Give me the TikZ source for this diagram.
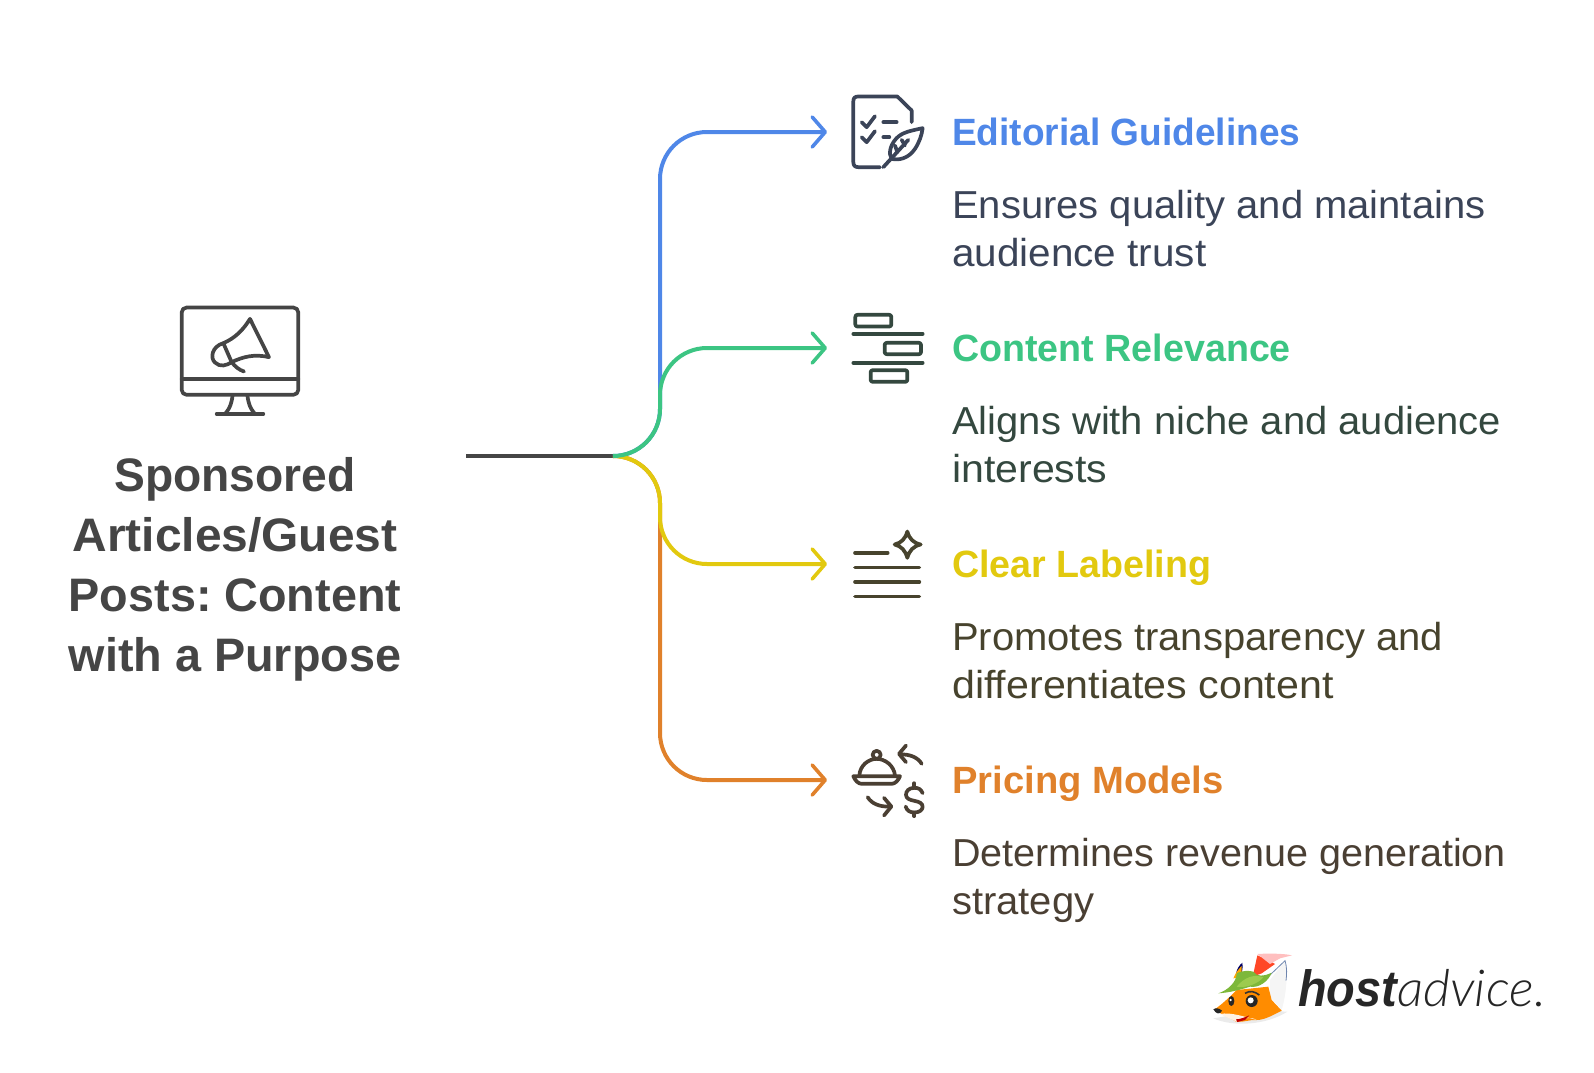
\documentclass[tikz,border=0pt]{standalone}
\usepackage{fontspec}
\usetikzlibrary{arrows.meta}
\setmainfont{Liberation Sans}
\newfontfamily\titlef[FakeStretch=0.995]{Liberation Sans}
\newfontfamily\headf[FakeStretch=0.99]{Liberation Sans}
\newfontfamily\descf[FakeStretch=1.025]{Liberation Sans}
\newfontfamily\logof[FakeStretch=0.92]{Liberation Sans}
\newfontfamily\lightf[FakeStretch=1.03]{Lato Light}
\definecolor{cblue}{HTML}{4F87E8}
\definecolor{cgreen}{HTML}{3CC583}
\definecolor{cyellow}{HTML}{E2C90F}
\definecolor{corange}{HTML}{E0812B}
\definecolor{tblue}{HTML}{3B4458}
\definecolor{tgreen}{HTML}{34483F}
\definecolor{tyellow}{HTML}{47432D}
\definecolor{torange}{HTML}{4A3F33}
\definecolor{tgray}{HTML}{454545}
\definecolor{leaf}{HTML}{7DB83A}
\definecolor{leafb}{HTML}{9CCB4E}
\tikzset{
  conn/.style={line width=4pt,-{Straight Barb[length=13pt,width=30pt,line width=3.6pt,round]}},
  stem/.style={line width=4pt},
  titlet/.style={font=\fontsize{47}{60}\selectfont\bfseries\titlef\frenchspacing,text=tgray,anchor=base,inner sep=0pt},
  headt/.style={font=\fontsize{38}{47}\selectfont\bfseries\headf,anchor=base west,inner sep=0pt},
  desct/.style={font=\fontsize{39}{47}\selectfont\descf,anchor=base west,inner sep=0pt},
  ico/.style={line width=3.7pt,line cap=round,line join=round},
  zoomed/.style={x=0.3333pt,y=-0.3333pt}
}
\begin{document}
\begin{tikzpicture}[x=1pt,y=-1pt]
\useasboundingbox (0,0) rectangle (1594,1072);
% text
\node[titlet,xscale=0.988] (t1) at (235,491) {Sponsored};
\node[titlet,xscale=1.025] (t2) at (235,551) {Articles/Guest};
\node[titlet] (t3) at (235,611) {Posts: Content};
\node[titlet] (t4) at (235,671) {with a Purpose};
\node[headt,text=cblue,xscale=0.985] (h1) at (952,145) {Editorial Guidelines};
\node[desct,text=tblue] (d1a) at (952,218) {Ensures quality and maintains};
\node[desct,text=tblue,xscale=1.012] (d1b) at (952,266) {audience trust};
\node[headt,text=cgreen] (h2) at (952,361) {Content Relevance};
\node[desct,text=tgreen] (d2a) at (952,434) {Aligns with niche and audience};
\node[desct,text=tgreen,xscale=1.027] (d2b) at (952,482) {interests};
\node[headt,text=cyellow] (h3) at (952,577) {Clear Labeling};
\node[desct,text=tyellow] (d3a) at (952,650) {Promotes transparency and};
\node[desct,text=tyellow,xscale=1.03] (d3b) at (952,698) {differentiates content};
\node[headt,text=corange,xscale=1.015] (h4) at (952,793) {Pricing Models};
\node[desct,text=torange,xscale=0.989] (d4a) at (952,866) {Determines revenue generation};
\node[desct,text=torange] (d4b) at (952,914) {strategy};
% connectors
\coordinate (src) at (466,456);
\coordinate (j) at (613,456);
\coordinate (up) at (660,409);
\coordinate (dn) at (660,503);
\coordinate (e1) at (827,132);
\coordinate (e2) at (827,348);
\coordinate (e3) at (827,564);
\coordinate (e4) at (827,780);
\draw[stem,tgray] (src) -- (j);
\draw[conn,corange] (j) .. controls +(26,0) and +(0,-26) .. (dn) -- (660,733) .. controls +(0,26) and +(-26,0) .. (707,780) -- (e4);
\draw[conn,cblue] (j) .. controls +(26,0) and +(0,26) .. (up) -- (660,179) .. controls +(0,-26) and +(-26,0) .. (707,132) -- (e1);
\draw[conn,cyellow] (j) .. controls +(26,0) and +(0,-26) .. (dn) -- (660,517) .. controls +(0,26) and +(-26,0) .. (707,564) -- (e3);
\draw[conn,cgreen] (j) .. controls +(26,0) and +(0,26) .. (up) -- (660,395) .. controls +(0,-26) and +(-26,0) .. (707,348) -- (e2);
% monitor icon
\begin{scope}[shift={(160,291.5)},zoomed,ico,tgray]
\draw[rounded corners=5pt] (65,48) rectangle (415,310);
\draw (65,262) -- (415,262);
\draw (218,310) .. controls (215,335) and (210,350) .. (197,365);
\draw (262,310) .. controls (265,335) and (270,350) .. (283,365);
\draw (170,367) -- (310,367);
\draw (270,82) -- (327,197) .. controls (285,187) and (250,195) .. (215,212) -- (190,155) .. controls (225,140) and (250,115) .. (270,82) -- cycle;
\draw (190,155) .. controls (155,165) and (150,200) .. (165,213) .. controls (180,228) and (200,222) .. (215,212) .. controls (225,225) and (237,235) .. (252,240);
\end{scope}
% doc + feather
\begin{scope}[shift={(820,80.5)},zoomed,ico,tblue]
\draw (180,260) -- (115,260) .. controls (105,260) and (100,255) .. (100,245) -- (100,62) .. controls (100,52) and (105,48) .. (115,48) -- (232,48) -- (275,90) -- (275,125);
\draw (125,125) -- (140,140) -- (165,107);
\draw (125,170) -- (140,185) -- (165,152);
\draw (190,125) -- (230,125);
\draw (190,170) -- (208,170);
\draw (308,143) .. controls (275,150) and (245,155) .. (228,175) .. controls (210,195) and (205,220) .. (215,235) .. controls (235,240) and (265,235) .. (285,205) .. controls (298,185) and (305,165) .. (308,143) -- cycle;
\draw (190,260) -- (265,178);
\draw (225,195) -- (232,215) (245,178) -- (255,195);
\end{scope}
% bars
\begin{scope}[shift={(820,300.5)},zoomed,ico,tgreen]
\draw[rounded corners=2pt] (106,43) rectangle (214,78);
\draw (100,100) -- (308,100);
\draw[rounded corners=2pt] (194,127) rectangle (303,161);
\draw (100,187) -- (308,187);
\draw[rounded corners=2pt] (152,209) rectangle (262,244);
\end{scope}
% lines + sparkle
\begin{scope}[shift={(820,520.5)},zoomed,ico,tyellow]
\draw (105,97) -- (203,97);
\draw (105,141) -- (298,141);
\draw (105,184) -- (298,184);
\draw (105,228) -- (298,228);
\draw (262,33) .. controls (268,55) and (280,67) .. (302,72) .. controls (280,77) and (268,90) .. (262,112) .. controls (256,90) and (244,77) .. (224,72) .. controls (244,67) and (256,55) .. (262,33) -- cycle;
\end{scope}
% cloche
\begin{scope}[shift={(820,730.5)},zoomed,ico,torange]
\draw (118,135) .. controls (120,105) and (145,85) .. (170,85) .. controls (195,85) and (222,105) .. (225,135);
\draw (170,73) circle[radius=4pt];
\draw (100,137) -- (240,137) .. controls (235,150) and (225,160) .. (215,160) -- (125,160) .. controls (115,160) and (105,150) .. (100,137) -- cycle;
\draw (305,100) .. controls (295,82) and (270,70) .. (240,72);
\draw (258,45) -- (237,70) -- (258,95);
\draw (143,200) .. controls (155,220) and (180,230) .. (212,228);
\draw (192,202) -- (214,228) -- (192,255);
\draw (308,188) .. controls (302,175) and (295,172) .. (283,172) .. controls (265,172) and (258,183) .. (258,193) .. controls (258,205) and (270,208) .. (283,211) .. controls (298,214) and (308,218) .. (308,229) .. controls (308,238) and (298,246) .. (283,246) .. controls (270,246) and (260,240) .. (257,228);
\draw (283,158) -- (283,172) (283,246) -- (283,257);
\end{scope}
% logo
\node[inner sep=0pt,anchor=base west,text=black!85] (logo) at (1298,1006) {\fontsize{51}{51}\selectfont{\logof\itshape\bfseries host}{\lightf\itshape advice.}};
\begin{scope}[shift={(1200,940)},zoomed]
\fill[black!8] (40,235) .. controls (100,262) and (200,255) .. (262,215) .. controls (240,215) and (230,210) .. (220,205) -- cycle;
\fill[black!4] (210,120) -- (255,62) .. controls (262,100) and (262,150) .. (245,210) -- (210,170) -- cycle;
\draw[cblue!60!black!70!white,line width=0.8pt] (210,105) -- (255,62) .. controls (262,85) and (260,105) .. (258,122);
\fill[blue!40!black] (108,105) .. controls (108,90) and (118,75) .. (127,68) .. controls (130,85) and (125,100) .. (120,115) -- cycle;
\fill[orange!70!yellow] (100,115) .. controls (108,95) and (118,85) .. (125,78) -- (125,110) -- cycle;
\fill[red!70!orange!85!white] (158,110) -- (172,46) -- (205,60) -- (225,72) -- (185,100) -- cycle;
\fill[red!25!white] (172,42) .. controls (200,40) and (250,40) .. (276,46) -- (240,55) -- (210,72) -- cycle;
\fill[orange!90!yellow] (44,208) .. controls (70,190) and (95,165) .. (110,150) -- (205,140) -- (215,180) -- (245,212) .. controls (225,222) and (195,240) .. (170,240) .. controls (150,238) and (130,248) .. (108,245) .. controls (85,230) and (60,222) .. (44,208) -- cycle;
\fill[white!90!orange] (62,222) .. controls (85,235) and (100,240) .. (110,245) .. controls (130,235) and (150,228) .. (170,240) .. controls (140,232) and (90,215) .. (62,222) -- cycle;
\fill[leaf] (55,160) .. controls (85,150) and (110,125) .. (110,100) .. controls (130,90) and (150,92) .. (160,95) .. controls (170,110) and (190,110) .. (215,98) .. controls (205,125) and (175,145) .. (150,140) .. controls (120,150) and (85,158) .. (55,160) -- cycle;
\fill[leafb] (110,140) .. controls (130,115) and (160,100) .. (190,112) .. controls (175,130) and (140,145) .. (110,140) -- cycle;
\fill[black!85] (155,183) circle[radius=6pt];
\fill[white] (152,181) circle[radius=3pt];
\fill[black!85] (94,183) ellipse[x radius=3pt,y radius=5pt];
\fill[white] (92,180) circle[radius=1.3pt];
\draw[black!80,line width=1.6pt] (135,160) .. controls (150,150) and (165,155) .. (178,165);
\fill[black!85] (40,208) .. controls (48,202) and (58,205) .. (66,212) .. controls (60,225) and (48,222) .. (40,208) -- cycle;
\fill[red!75!black] (108,238) .. controls (120,238) and (135,232) .. (148,226) -- (135,240) -- (112,246) -- cycle;
\end{scope}
\end{tikzpicture}
\end{document}
